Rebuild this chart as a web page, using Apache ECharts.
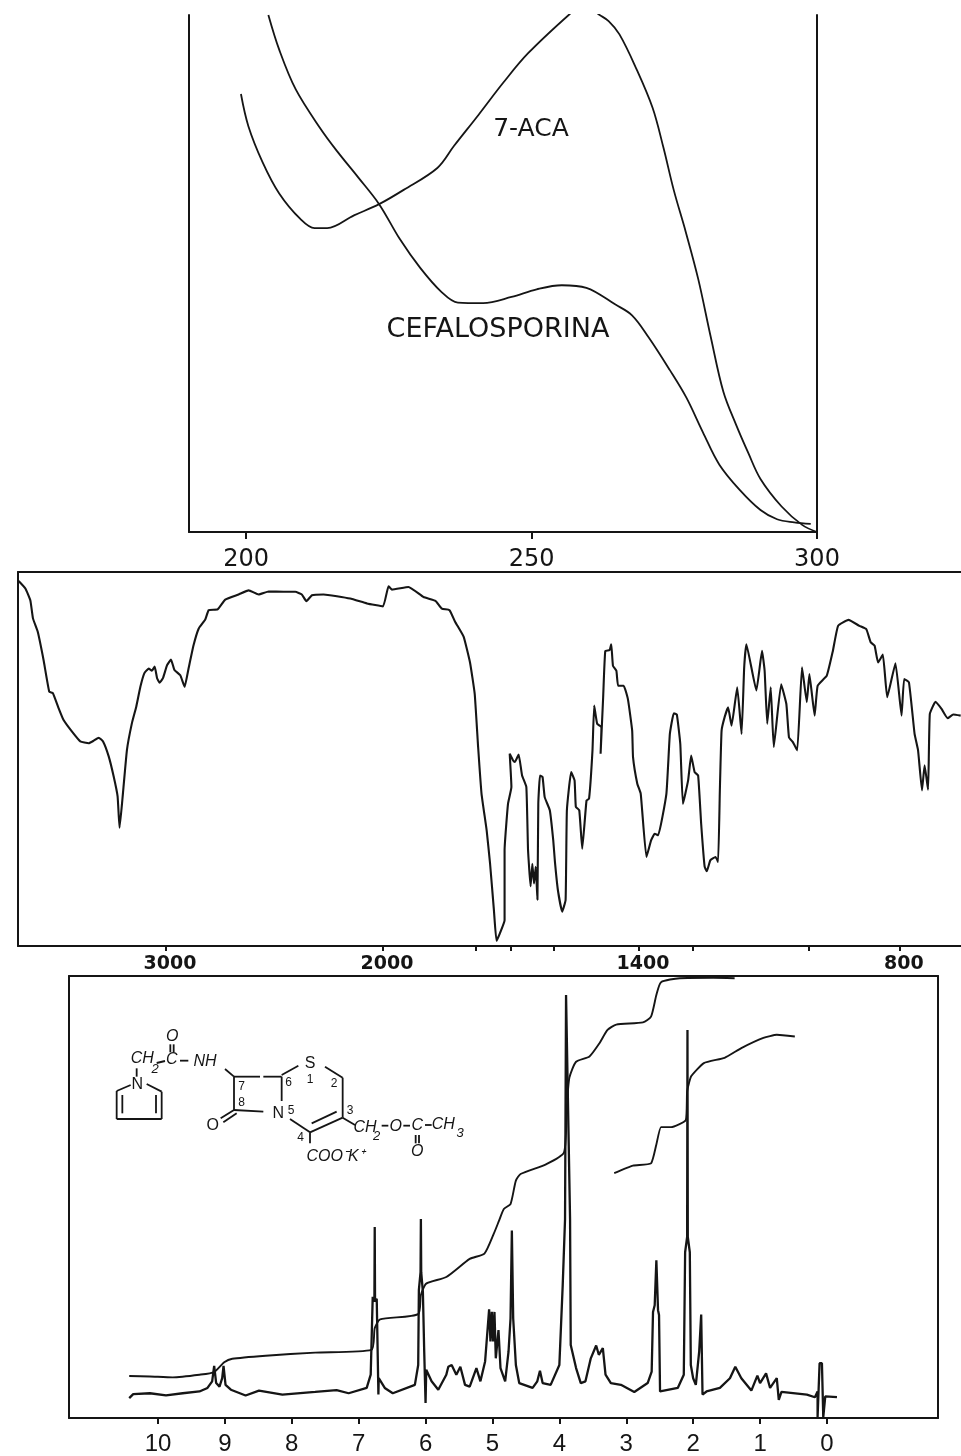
<!DOCTYPE html>
<html><head><meta charset="utf-8">
<style>html,body{margin:0;padding:0;background:#fff}#c{width:961px;height:1456px}</style>
<script src="https://cdn.jsdelivr.net/npm/echarts@6/dist/echarts.min.js"></script>
</head><body><div id="c"></div>
<script>
// ---------- UV panel: wavelength (nm) / relative absorbance ----------
const uvTicks = [200, 250, 300];
const aca7 = [[199.1,85.9],[200.4,79.6],[202.9,72.5],[205.8,66.4],[209.5,61.4],[212,59.6],[214.2,59.6],[218.9,62.1],[223.3,64.3],[227.6,67.1],[233.5,71.4],[236.4,75.7],[240.7,81.8],[245.1,88.2],[249.4,93.9],[256.6,101.5],[258,102.5],[260,103],[261.8,101.5],[263.5,100.2],[265.4,97.6],[268.3,91],[271.2,83.2],[273.1,75.4],[274.9,67.1],[277,58.9],[279.2,49.6],[281.4,38.2],[283.6,27.5],[285.8,21.1],[288,15.4],[290.1,10.4],[293.8,5],[297.4,1.4],[300,0]];
const cefalosporina = [[203.9,101.4],[205.8,94.6],[208.7,86.8],[213.1,79],[216,74.6],[219.6,69.6],[223.3,64.3],[226.9,57.5],[230.5,51.8],[234.2,47.1],[237.1,45],[241.5,44.9],[246.5,46.1],[250.9,47.6],[255.3,48.4],[259.6,47.9],[264.7,44.6],[267.6,42.5],[270.5,38.2],[274.2,31.8],[277.1,26.4],[280,19.6],[282.9,13.2],[286.5,8.2],[290.1,4.3],[293,2.5],[296,1.9],[298.9,1.6]];

// ---------- IR panel: wavenumber (cm-1) / transmittance (%) ----------
const irLabels = [3000, 2000, 1400, 800];
const irTicks = [3000, 2000, 1782, 1700, 1600, 1400, 1276, 1010, 800];
const irScaleWn = [3000, 2000, 1400, 800];
const irScaleU  = [0, 1000, 2180, 3382];
const irTrace = [[3679,97.6],[3648,95.6],[3625,92.4],[3613,87.6],[3591,84],[3564,76.4],[3538,68],[3521,67.6],[3495,63.6],[3472,60.4],[3433,57.3],[3395,54.7],[3356,54.2],[3333,54.9],[3310,55.7],[3290,54.7],[3264,50.7],[3241,45.3],[3223,40],[3214,31.6],[3201,39.1],[3180,52.4],[3157,59.6],[3137,64],[3118,69.3],[3100,72.9],[3080,74.2],[3065,73.6],[3052,74.7],[3041,71.6],[3029,70.4],[3014,71.6],[2995,75.1],[2977,76.6],[2961,73.8],[2934,72.4],[2914,69.3],[2896,74.2],[2873,80.4],[2849,84.9],[2819,87.3],[2803,89.8],[2762,90],[2727,92.6],[2665,94],[2619,95.1],[2573,94],[2527,94.8],[2458,94.7],[2404,94.7],[2374,94],[2353,92.2],[2327,93.8],[2274,94],[2151,92.9],[2074,91.6],[2000,90.8],[1987,96.2],[1979,95.3],[1940,96],[1905,93.3],[1877,92.3],[1862,90.2],[1844,89.8],[1831,86.7],[1811,82.7],[1796,75.8],[1785,67.4],[1777,53.2],[1769,40.7],[1757,30.9],[1749,22],[1740,9.6],[1734,1.4],[1726,3.4],[1715,6.9],[1715,25.6],[1707,38],[1699,42.5],[1703,51.4],[1695,49.6],[1691,49.2],[1682,51.2],[1674,45.6],[1664,42.5],[1660,25.6],[1654,16],[1650,22],[1646,16.7],[1642,21.2],[1638,12.4],[1636,38],[1632,45.6],[1626,45.2],[1621,39.8],[1609,36.3],[1601,28.3],[1597,22.5],[1590,14.9],[1580,9.2],[1572,12.3],[1569,36.3],[1559,46.5],[1551,44.3],[1548,37.2],[1540,36.3],[1533,26],[1523,38.9],[1517,39.4],[1509,52.3],[1505,64.3],[1498,59.4],[1488,58.5],[1490,51.4],[1484,66.5],[1479,78.9],[1469,79.1],[1465,80.7],[1461,74.9],[1453,73.6],[1449,69.6],[1436,69.6],[1426,66],[1416,57.6],[1414,50.5],[1404,43.4],[1396,40.7],[1383,23.8],[1372,28.3],[1364,30],[1356,29.6],[1337,40.7],[1329,56.7],[1320,62.2],[1313,61.9],[1305,54],[1299,38],[1287,44.3],[1280,50.9],[1272,46.5],[1264,45.6],[1257,32.7],[1249,21.2],[1244,20],[1236,22.9],[1224,23.8],[1218,22.5],[1214,41.6],[1210,57.6],[1203,61.2],[1195,63.8],[1187,58.9],[1174,69.2],[1164,56.7],[1158,74.5],[1153,80.7],[1130,68.3],[1117,78.9],[1111,73.6],[1105,59.4],[1097,69.2],[1090,53.2],[1073,70],[1061,64.7],[1055,55.8],[1046,54.5],[1036,52.3],[1025,74.5],[1014,65.2],[1008,72.7],[996,61.6],[989,69.6],[968,72.3],[954,78.9],[942,85.6],[918,87.2],[893,85.6],[877,84.7],[867,81.2],[858,80.3],[850,75.8],[839,77.9],[829,66.5],[810,75.6],[796,61.6],[790,71.4],[779,70.5],[766,56.7],[758,52.3],[749,41.6],[743,48.3],[735,41.8],[731,62],[718,65.3],[704,63.4],[690,60.9],[677,61.9],[660,61.6]];

// ---------- NMR panel: chemical shift (ppm) / intensity ----------
const nmrTicks = [10,9,8,7,6,5,4,3,2,1,0];
const nmrTrace = [[10.43,4.5],[10.37,5.4],[10.12,5.6],[9.88,5.1],[9.63,5.6],[9.38,6],[9.26,6.8],[9.19,8.3],[9.16,11.8],[9.13,7.9],[9.08,7.1],[9.04,9],[9.02,11.8],[8.99,7.5],[8.91,6.4],[8.69,5.1],[8.49,6.2],[8.14,5.3],[7.65,5.9],[7.33,6.3],[7.15,5.6],[6.88,6.8],[6.82,9.8],[6.79,27.4],[6.765,26.3],[6.76,43.2],[6.755,26.3],[6.73,27],[6.715,14],[6.705,5.3],[6.7,9],[6.61,6.8],[6.49,5.6],[6.16,7.5],[6.11,12],[6.1,29],[6.075,33],[6.07,45],[6.065,33],[6.04,28.5],[6.02,15],[6,3.4],[5.99,10.9],[5.91,8.3],[5.81,6.4],[5.69,9.8],[5.66,11.6],[5.61,12],[5.54,9.8],[5.48,11.6],[5.41,7.5],[5.34,7.1],[5.24,11.3],[5.18,8.3],[5.11,12.8],[5.05,24.6],[5.03,17.3],[5.01,24],[4.99,17.3],[4.97,24],[4.95,13.5],[4.91,19.9],[4.88,11.3],[4.81,8.3],[4.76,15],[4.73,22.5],[4.71,42.4],[4.69,22.5],[4.65,12],[4.6,7.9],[4.4,6.8],[4.33,8.3],[4.29,10.7],[4.25,7.9],[4.13,7.5],[4,12],[3.95,30],[3.915,45],[3.9,95.7],[3.84,45],[3.83,16.5],[3.75,11.3],[3.68,7.9],[3.61,8.3],[3.53,13.5],[3.45,16.4],[3.41,14.3],[3.35,15.8],[3.31,9.8],[3.23,7.9],[3.08,7.5],[2.88,5.9],[2.68,7.9],[2.62,10.5],[2.6,24],[2.575,25.5],[2.55,35.7],[2.525,24.4],[2.51,23.3],[2.495,6],[2.23,6.8],[2.14,9.8],[2.12,37.5],[2.09,41],[2.085,87.8],[2.08,41],[2.05,37.5],[2.035,12],[2,9],[1.96,7.5],[1.91,15],[1.88,23.4],[1.86,5.3],[1.8,6],[1.6,6.8],[1.45,9],[1.37,11.6],[1.28,9],[1.13,6.2],[1.04,9.6],[1,7.9],[0.91,10.1],[0.85,6.8],[0.75,9],[0.72,4.1],[0.68,5.9],[0.3,5.3],[0.18,4.7],[0.14,6],[0.14,0.2],[0.11,12.4],[0.075,12.4],[0.055,0.2],[0.025,4.9],[-0.15,4.7]];
const integralA = [[10.43,9.5],[10.12,9.4],[9.78,9.2],[9.38,9.8],[9.16,10.4],[9.01,12.6],[8.89,13.4],[8.39,14.1],[7.65,14.8],[6.81,15.4],[6.76,20.3],[6.68,22.3],[6.11,23.5],[6.07,27.8],[5.99,30.4],[5.69,31.9],[5.34,36],[5.12,37.2],[4.98,41.7],[4.9,44.7],[4.83,47.3],[4.73,48.4],[4.65,53.7],[4.58,55.2],[4.2,57.4],[3.93,60.1],[3.89,70.2],[3.85,77],[3.75,80.6],[3.55,81.8],[3.4,84.8],[3.28,87.8],[3.15,89],[2.75,89.5],[2.63,90.8],[2.55,95.7],[2.48,98.6],[2.2,99.5],[1.7,99.6],[1.38,99.5]];
const integralB = [[3.18,55.4],[2.9,57.1],[2.63,57.6],[2.55,61.9],[2.48,65.8],[2.33,65.8],[2.11,67.4],[2.09,73.9],[2.03,77.3],[1.84,80.3],[1.53,81.5],[1.28,83.7],[0.95,86],[0.75,86.7],[0.48,86.3]];

// ---------- helpers ----------
function wnToU(wn){
  let i = 0;
  while (i < irScaleWn.length - 2 && wn < irScaleWn[i+1]) i++;
  const t = (irScaleWn[i] - wn) / (irScaleWn[i] - irScaleWn[i+1]);
  return irScaleU[i] + t * (irScaleU[i+1] - irScaleU[i]);
}
const INK = '#151515';
const line = {color: INK, width: 2};
const hide = {show:false};
function frameX(gridIndex, min, max, pos, extra){
  return Object.assign({type:'value', gridIndex, min, max, position:pos, splitLine:hide, axisTick:hide, axisLabel:hide, axisLine:{show:true, onZero:false, lineStyle:line}}, extra||{});
}
function frameY(gridIndex, min, max, pos, show){
  return {type:'value', gridIndex, min, max, position:pos, splitLine:hide, axisTick:hide, axisLabel:hide, axisLine:{show:show, onZero:false, lineStyle:line}};
}
function trace(name, data, xi, yi, width, smooth){
  return {type:'line', name, data, xAxisIndex:xi, yAxisIndex:yi, showSymbol:false, symbol:'none', silent:true, smooth:smooth||false, clip:true, lineStyle:{color:INK, width}, animation:false};
}

// ---------- structure drawing (annotation in panel 3) ----------
const mx = x => 60 + x/3, my = y => 975 + y/3;
const bonds = [[331,208,331,232],[341,208,341,232],[290,264,315,258],[360,257,385,257],[230,280,230,305],
 [212,330,170,348],[170,348,170,432],[170,432,305,432],[305,432,305,350],[305,350,260,327],[187,360,187,415],[288,360,288,415],
 [495,282,522,305],[522,305,600,305],[610,305,665,305],[522,305,522,405],[522,405,610,410],[665,305,665,378],[665,300,715,272],
 [482,430,522,405],[490,442,530,415],[795,275,848,308],[848,308,848,428],[848,428,750,472],[755,445,830,410],[690,432,750,472],[750,472,750,505],[848,428,885,450],
 [965,452,985,452],[1030,452,1050,452],[1095,450,1115,450],
 [1067,480,1067,505],[1077,480,1077,505]];
const atoms = [['O',337,185,'i',16],['C',335,255,'i',16],['CH',247,252,'i',16],['2',285,282,'i',13],['NH',435,260,'i',16],['N',232,330,'n',16],
 ['O',458,452,'n',16],['N',655,415,'n',16],['S',750,265,'n',16],['5',693,408,'n',12],['7',545,335,'n',12],['8',545,382,'n',12],['6',686,322,'n',12],['1',750,315,'n',12],['2',822,325,'n',12],['4',722,487,'n',12],['3',870,408,'n',12],
 ['COO\u207BK\u207A',825,545,'i',16],['CH',915,457,'i',16],['2',950,485,'i',13],['O',1007,455,'i',16],['C',1072,452,'i',16],['CH',1150,450,'i',16],['3',1200,475,'i',13],['O',1072,530,'i',16]];
const graphic = [];
bonds.forEach(b => graphic.push({type:'line', silent:true, shape:{x1:mx(b[0]),y1:my(b[1]),x2:mx(b[2]),y2:my(b[3])}, style:{stroke:INK, lineWidth:1.8}}));
atoms.forEach(a => graphic.push({type:'text', silent:true, x:mx(a[1]), y:my(a[2]), style:{text:a[0], fill:INK, align:'center', verticalAlign:'middle', font:(a[3]==='i'?'italic ':'')+a[4]+'px "Liberation Sans"'}}));
graphic.push({type:'text', silent:true, x:531, y:129, style:{text:'7-ACA', fill:INK, align:'center', verticalAlign:'middle', font:'25px "DejaVu Sans"'}});
graphic.push({type:'text', silent:true, x:498, y:330, style:{text:'CEFALOSPORINA', fill:INK, align:'center', verticalAlign:'middle', font:'27px "DejaVu Sans"'}});

const irU = irTrace.map(p => [wnToU(p[0]), p[1]]);
const irMin = -682, irMax = 3664;
const nmrMin = -1.66, nmrMax = 11.33;
const uvTop = 101.4;

const option = {
  animation:false, backgroundColor:'#fff',
  grid:[
    {left:189, top:15, width:628, height:517},
    {left:18, top:572, width:943, height:374},
    {left:69, top:976, width:869, height:444}
  ],
  xAxis:[
    {type:'value', gridIndex:0, min:190, max:300, splitLine:hide,
     axisLine:{show:true,onZero:false,lineStyle:line},
     axisTick:{show:true,length:7,lineStyle:line,customValues:uvTicks},
     axisLabel:{show:true,customValues:uvTicks,margin:16,color:INK,fontFamily:'DejaVu Sans',fontSize:24,hideOverlap:false,showMinLabel:true,showMaxLabel:true}},
    {type:'value', gridIndex:1, min:irMin, max:irMax, splitLine:hide,
     axisLine:{show:true,onZero:false,lineStyle:line},
     axisTick:{show:true,length:5,lineStyle:line,customValues:irTicks.map(wnToU)},
     axisLabel:{show:true,customValues:irLabels.map(wnToU),margin:9,color:INK,fontFamily:'DejaVu Sans',fontWeight:'bold',fontSize:19,padding:[0,0,0,8],
       formatter:v => { const i = irLabels.map(wnToU).findIndex(u => Math.abs(u-v)<1); return i<0?'':String(irLabels[i]); }}},
    frameX(1, irMin, irMax, 'top'),
    {type:'value', gridIndex:2, min:nmrMin, max:nmrMax, inverse:true, splitLine:hide,
     axisLine:{show:true,onZero:false,lineStyle:line},
     axisTick:{show:true,length:6,lineStyle:line,customValues:nmrTicks},
     axisLabel:{show:true,customValues:nmrTicks,margin:14,fontFamily:'Liberation Sans',fontSize:24,
       color:v => v===0 ? '#999' : INK}},
    frameX(2, nmrMin, nmrMax, 'top', {inverse:true})
  ],
  yAxis:[
    frameY(0,0,uvTop,'left',true), frameY(0,0,uvTop,'right',true),
    frameY(1,0,100,'left',true),
    frameY(2,0,100,'left',true), frameY(2,0,100,'right',true)
  ],
  series:[
    trace('7-ACA', aca7, 0, 0, 1.8, 0.35),
    trace('Cefalosporina', cefalosporina, 0, 0, 1.8, 0.35),
    trace('IR', irU, 1, 2, 2.1, 0.12),
    trace('Integral A', integralA, 3, 3, 1.9, 0.2),
    trace('Integral B', integralB, 3, 3, 1.9, 0.15),
    trace('NMR', nmrTrace, 3, 3, 2.3)
  ],
  graphic
};
echarts.init(document.getElementById('c'), null, {renderer:'canvas'}).setOption(option);
</script></body></html>
